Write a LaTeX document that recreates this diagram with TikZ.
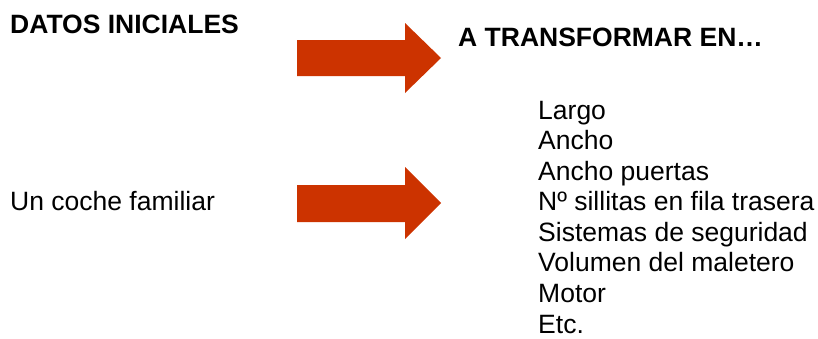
\documentclass[tikz,border=0pt]{standalone}
\usepackage{fontspec}
\setmainfont{Liberation Sans}
\definecolor{arrowred}{RGB}{204,51,0}
\tikzset{
  txt/.style={anchor=base west, inner sep=0pt, font=\fontsize{26.5}{30.6}\selectfont},
  hdr/.style={txt, font=\fontsize{26.5}{30.6}\selectfont\bfseries},
  bigarrow/.style={fill=arrowred, draw=none},
}
\begin{document}
\begin{tikzpicture}[x=1pt,y=-1pt]
\useasboundingbox (0,0) rectangle (818,338);
\node[hdr] (datos) at (10,33) {DATOS INICIALES};
\node[hdr] (transf) at (458,46) {A TRANSFORMAR EN…};
\node[txt] (coche) at (10,210) {Un coche familiar};
\node[txt] (l1) at (538,119) {Largo};
\node[txt] (l2) at (538,149.6) {Ancho};
\node[txt] (l3) at (538,180.1) {Ancho puertas};
\node[txt] (l4) at (538,210.7) {Nº sillitas en fila trasera};
\node[txt] (l5) at (538,241.3) {Sistemas de seguridad};
\node[txt] (l6) at (538,271.9) {Volumen del maletero};
\node[txt] (l7) at (538,302.4) {Motor};
\node[txt] (l8) at (538,333) {Etc.};
\fill[bigarrow] (297,40) -- (405,40) -- (405,23) -- (441,58) -- (405,93) -- (405,76) -- (297,76) -- cycle;
\fill[bigarrow] (297,185) -- (405,185) -- (405,167) -- (441,203) -- (405,239) -- (405,222) -- (297,222) -- cycle;
\end{tikzpicture}
\end{document}
